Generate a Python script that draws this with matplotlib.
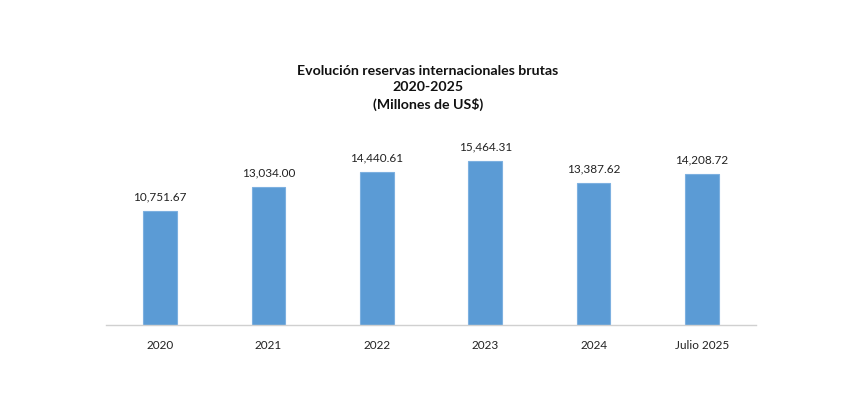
import matplotlib.pyplot as plt
import numpy as np

categorias = ["2020", "2021", "2022", "2023", "2024", "Julio 2025"]
reservas = [10751.67, 13034.00, 14440.61, 15464.31, 13387.62, 14208.72]
titulo = "Evolución reservas internacionales brutas\n2020-2025\n(Millones de US$)"

plt.rcParams["font.family"] = ["Lato", "DejaVu Sans"]

fig = plt.figure(figsize=(8.48, 4.10), dpi=100)
ax = fig.add_axes([105.8 / 848, 84 / 410, 650.4 / 848, 190.8 / 410])

x = np.arange(len(categorias))
ax.bar(x, reservas, width=0.31, color="#5B9BD5", edgecolor="#7DB0E0",
       linewidth=0.8, zorder=2)
for xi, v in zip(x, reservas):
    ax.text(xi, v + 900, f"{v:,.2f}", ha="center", va="bottom",
            fontsize=8.5, color="#222222")

ax.set_xlim(-0.5, len(categorias) - 0.5)
ax.set_ylim(0, 18000)
ax.set_xticks(x, categorias)
ax.tick_params(axis="x", length=0, pad=10, labelsize=8.5, labelcolor="#222222")
ax.set_yticks([])
for side in ["top", "right", "left"]:
    ax.spines[side].set_visible(False)
ax.spines["bottom"].set_color("#D0D0D0")
ax.spines["bottom"].set_linewidth(1.0)

fig.text(428 / 848, 1 - 65 / 410, titulo, ha="center", va="top",
         fontsize=10.2, fontweight="bold", color="#111111", linespacing=1.42)

fig.savefig("out.png", dpi=100)
